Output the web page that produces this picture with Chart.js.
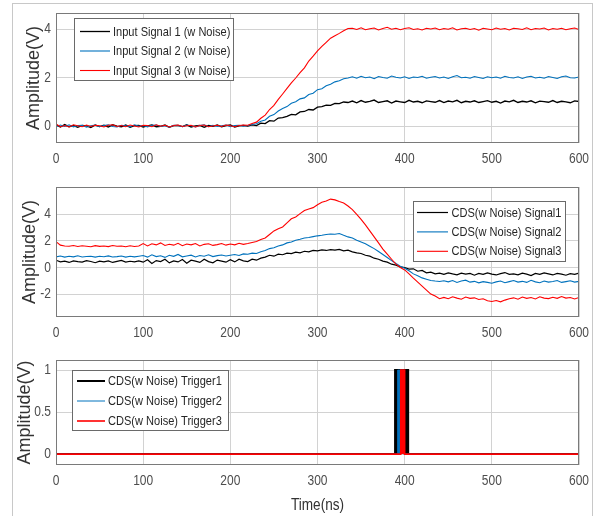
<!DOCTYPE html>
<html>
<head>
<meta charset="utf-8">
<script src="https://cdn.jsdelivr.net/npm/chart.js@4.4.1/dist/chart.umd.min.js"></script>
<style>
  body { margin: 0; background: #fff; }
  #frame { position: absolute; left: 12px; top: 3px; width: 579px; height: 520px;
           border: 1px solid #c8c8c8; border-bottom: none; }
  canvas { position: absolute; left: 0; }
</style>
</head>
<body>
<div id="frame"></div>
<canvas id="c1" width="595" height="170" style="top:0px"></canvas>
<canvas id="c2" width="595" height="170" style="top:170px"></canvas>
<canvas id="c3" width="595" height="176" style="top:340px"></canvas>
<script>
// temps (ns), pas de 5 ns
const timeNs = [0,5,10,15,20,25,30,35,40,45,50,55,60,65,70,75,80,85,90,95,
  100,105,110,115,120,125,130,135,140,145,150,155,160,165,170,175,180,185,190,195,
  200,205,210,215,220,225,230,235,240,245,250,255,260,265,270,275,280,285,290,295,
  300,305,310,315,320,325,330,335,340,345,350,355,360,365,370,375,380,385,390,395,
  400,405,410,415,420,425,430,435,440,445,450,455,460,465,470,475,480,485,490,495,
  500,505,510,515,520,525,530,535,540,545,550,555,560,565,570,575,580,585,590,595,600];

// signaux d'entree (avec bruit)
const input1 = [0.05,-0.04,0.06,-0.03,0.02,-0.05,0.03,0.01,-0.06,0.04,
  -0.02,0.03,-0.04,0.05,0.00,-0.03,0.04,-0.05,0.02,0.03,
  -0.04,0.01,0.05,-0.03,-0.01,0.04,-0.05,0.02,0.03,-0.02,
  0.05,-0.04,0.01,0.03,-0.05,0.02,-0.01,0.04,-0.03,0.02,
  0.05,-0.04,0.01,0.03,
  0.00,0.05,0.02,0.12,0.10,0.22,0.20,0.33,0.35,0.40,0.48,0.46,0.58,0.60,0.68,0.66,0.78,0.80,0.86,0.85,0.93,0.92,0.99,0.97,
  1.03,0.96,1.05,0.98,1.02,1.07,0.97,1.01,1.04,0.95,
  1.03,1.00,0.97,1.06,0.99,1.02,0.96,1.04,1.01,0.98,
  1.05,0.97,1.03,1.00,1.06,0.96,1.02,0.99,1.04,0.97,
  1.01,1.05,0.98,1.02,0.95,1.03,1.00,1.06,0.97,1.02,
  0.99,1.04,0.96,1.03,1.01,0.98,1.05,0.97,1.02,1.00,
  0.96,1.04,1.01];
const input2 = [-0.03,0.04,-0.02,0.05,-0.04,0.02,0.03,-0.05,0.01,0.04,
  -0.03,0.02,0.05,-0.02,-0.04,0.03,0.01,-0.03,0.05,-0.01,
  0.02,-0.04,0.03,0.04,-0.02,0.01,-0.05,0.03,0.02,-0.03,
  0.04,0.01,-0.04,0.02,0.05,-0.03,0.03,-0.02,0.01,0.04,
  -0.03,0.02,0.03,-0.01,
  0.02,0.06,0.09,0.20,0.25,0.40,0.47,0.62,0.72,0.80,0.94,1.00,1.12,1.16,1.30,1.35,1.50,1.54,1.66,1.72,1.82,1.87,1.95,1.98,
  2.03,1.97,2.05,1.99,2.02,1.95,2.04,2.00,1.97,2.06,
  2.01,1.98,2.03,1.96,2.02,2.00,2.05,1.97,2.01,2.04,
  1.98,2.02,1.96,2.03,2.08,1.99,2.01,1.97,2.04,2.00,
  1.96,2.03,1.99,2.02,1.97,2.05,2.00,1.98,2.03,1.96,
  2.02,2.05,1.98,2.01,1.97,2.04,2.00,1.96,2.03,2.06,
  1.99,1.98,2.02];
const input3 = [0.08,-0.03,0.02,-0.04,0.05,0.01,-0.03,0.04,-0.02,0.03,
  0.01,-0.04,0.03,0.05,-0.02,0.02,-0.03,0.04,0.00,-0.04,
  0.03,0.02,-0.03,0.05,-0.01,0.03,-0.04,0.02,0.04,-0.02,
  0.01,0.03,-0.04,0.02,0.04,-0.03,0.00,0.03,-0.02,0.04,
  0.01,-0.03,0.02,0.04,
  0.03,0.10,0.16,0.32,0.45,0.68,0.85,1.10,1.32,1.55,1.78,1.98,2.20,2.40,2.68,2.88,3.10,3.28,3.45,3.62,3.72,3.82,3.93,4.02,
  4.03,3.98,4.05,3.97,4.01,4.04,3.96,4.02,4.07,3.99,
  4.03,3.97,4.02,4.05,3.98,4.01,3.96,4.03,4.00,4.04,
  3.97,4.02,3.99,4.05,3.96,4.01,4.03,3.98,4.02,3.95,
  4.03,4.00,3.97,4.04,3.99,4.02,3.96,4.03,4.01,3.98,
  4.05,3.97,4.02,4.00,4.04,3.96,4.02,3.99,4.03,3.97,
  4.01,4.04,3.98];

// sorties CDS (avec bruit)
const cds1 = [0.55,0.42,0.48,0.38,0.50,0.44,0.40,0.52,0.45,0.36,0.48,0.42,0.50,0.38,0.46,0.53,0.40,0.47,0.43,0.49,
  0.40,0.58,0.30,0.52,0.45,0.62,0.35,0.50,0.42,0.60,0.32,0.55,0.48,0.38,0.62,0.44,0.35,0.56,0.48,0.40,
  0.58,0.42,0.62,0.50,
  0.45,0.62,0.55,0.70,0.78,0.92,0.85,1.00,0.96,1.08,1.05,1.15,1.10,1.22,1.18,1.28,1.25,1.32,1.28,1.35,1.30,1.36,1.25,1.30,
  1.18,1.10,1.05,0.92,0.85,0.70,0.62,0.48,0.40,0.25,0.18,0.05,0.00,-0.12,-0.10,-0.28,-0.22,-0.40,-0.35,-0.48,-0.42,
  -0.52,-0.40,-0.48,-0.55,-0.42,-0.50,-0.45,-0.58,-0.44,-0.52,-0.40,-0.50,-0.56,-0.46,-0.38,-0.52,
  -0.48,-0.55,-0.42,-0.50,-0.60,-0.45,-0.52,-0.40,-0.48,-0.56,-0.44,-0.50,-0.58,-0.46,-0.52,-0.42];
const cds2 = [0.80,0.86,0.78,0.84,0.80,0.88,0.79,0.83,0.85,0.78,0.84,0.81,0.87,0.79,0.82,0.86,0.78,0.84,0.80,0.85,
  0.90,0.78,0.95,0.82,0.88,0.76,0.92,0.84,0.98,0.80,0.87,0.93,0.79,0.90,0.85,0.96,0.82,0.89,0.94,0.86,
  0.92,0.98,0.90,1.02,
  1.00,1.08,1.05,1.18,1.28,1.42,1.48,1.62,1.70,1.85,1.92,2.05,2.12,2.22,2.25,2.32,2.38,2.42,2.48,2.52,2.50,2.55,2.42,2.30,
  2.22,2.05,1.92,1.78,1.60,1.42,1.20,0.98,0.75,0.52,0.30,0.10,-0.05,-0.25,-0.48,-0.62,-0.78,-0.88,-0.98,-1.02,-1.05,
  -1.00,-1.08,-0.98,-1.12,-1.02,-0.95,-1.10,-1.04,-1.15,-1.06,-1.12,-1.18,-1.08,-1.02,-1.14,-1.06,
  -0.98,-1.10,-1.04,-1.12,-0.96,-1.08,-1.14,-1.02,-1.10,-1.05,-0.98,-1.12,-1.06,-1.00,-1.10,-1.04];
const cds3 = [1.95,1.68,1.62,1.60,1.65,1.58,1.63,1.60,1.56,1.64,1.59,1.62,1.57,1.65,1.60,1.62,1.56,1.63,1.58,1.61,
  1.80,1.62,1.78,1.70,1.85,1.66,1.75,1.68,1.82,1.64,1.76,1.70,1.80,1.62,1.74,1.78,1.66,1.72,1.80,1.68,
  1.76,1.70,1.82,1.74,
  1.80,1.88,1.95,2.10,2.22,2.48,2.75,2.92,3.05,3.35,3.66,3.80,4.05,4.28,4.40,4.50,4.72,4.90,5.00,5.14,5.08,4.96,4.85,4.62,
  4.35,4.00,3.62,3.20,2.75,2.30,1.85,1.38,1.00,0.62,0.25,0.00,-0.18,-0.48,-0.80,-1.10,-1.40,-1.70,-2.00,-2.15,-2.35,
  -2.25,-2.35,-2.20,-2.30,-2.38,-2.22,-2.32,-2.28,-2.40,-2.35,-2.50,-2.55,-2.48,-2.58,-2.45,-2.35,
  -2.28,-2.38,-2.22,-2.32,-2.26,-2.36,-2.20,-2.30,-2.34,-2.24,-2.32,-2.18,-2.30,-2.26,-2.36,-2.25];

// triggers (front montant / descendant)
const trigTime1 = [0, 389, 389, 404, 404, 600];
const trigLevel1 = [0, 0, 1, 1, 0, 0];
const trigTime2 = [0, 392, 392, 399, 399, 600];
const trigLevel2 = [0, 0, 1, 1, 0, 0];
const trigTime3 = [0, 395.5, 395.5, 400, 400, 600];
const trigLevel3 = [0, 0, 1, 1, 0, 0];

const xTicks = [0, 100, 200, 300, 400, 500, 600];
const yTicks1 = [0, 2, 4];
const yTicks2 = [-2, 0, 2, 4];
const yTicks3 = [0, 0.5, 1];

const labels1 = ["Input Signal 1 (w Noise)", "Input Signal 2 (w Noise)", "Input Signal 3 (w Noise)"];
const labels2 = ["CDS(w Noise) Signal1", "CDS(w Noise) Signal2", "CDS(w Noise) Signal3"];
const labels3 = ["CDS(w Noise) Trigger1", "CDS(w Noise) Trigger2", "CDS(w Noise) Trigger3"];

const NOIR = "#000000", BLEU = "#0072BD", ROUGE = "#FF0000";
const POLICE = '"Liberation Sans", Arial, sans-serif';

function pts(xs, ys) {
  return xs.map((x, i) => ({ x: x, y: ys[i] }));
}

// texte un peu serre (police etroite facon matlab)
function texteSerre(ctx, txt, x, y, align, sx) {
  ctx.save();
  ctx.translate(x, y);
  ctx.scale(sx, 1);
  ctx.textAlign = align;
  ctx.fillText(txt, 0, 0);
  ctx.restore();
}

// cadre, graduations, legende
const cadreLegende = {
  id: "cadreLegende",
  afterDraw(chart, args, opts) {
    const ctx = chart.ctx, a = chart.chartArea;
    const sx = chart.scales.x, sy = chart.scales.y;
    ctx.save();
    ctx.strokeStyle = "#7a7a7a";
    ctx.lineWidth = 1;
    ctx.strokeRect(Math.round(a.left) + 0.5, Math.round(a.top) + 0.5,
      Math.round(a.right - a.left) - 1, Math.round(a.bottom - a.top) - 1);

    // etiquettes des axes
    ctx.fillStyle = "#4d4d4d";
    ctx.font = "15px " + POLICE;
    ctx.textBaseline = "top";
    xTicks.forEach(v => texteSerre(ctx, String(v), sx.getPixelForValue(v), a.bottom + 8, "center", 0.8));
    ctx.textBaseline = "middle";
    opts.yTicks.forEach(v => texteSerre(ctx, String(v), a.left - 5, sy.getPixelForValue(v), "right", 0.8));
    if (opts.xTitle) {
      ctx.fillStyle = "#333";
      ctx.font = "17px " + POLICE;
      texteSerre(ctx, opts.xTitle, (a.left + a.right) / 2, chart.height - 11, "center", 0.8);
    }

    const L = opts.box;
    if (L) {
      ctx.fillStyle = "#fff";
      ctx.fillRect(L.x, L.y, L.w, L.h);
      ctx.strokeStyle = "#6a6a6a";
      ctx.lineWidth = 1;
      ctx.strokeRect(L.x + 0.5, L.y + 0.5, L.w, L.h);
      ctx.font = "13px " + POLICE;
      ctx.textBaseline = "middle";
      chart.data.datasets.forEach((ds, i) => {
        const y = L.y + L.rowTop + i * L.rowGap;
        ctx.strokeStyle = ds.borderColor;
        ctx.lineWidth = ds.borderWidth;
        ctx.beginPath();
        ctx.moveTo(L.x + L.l0, y);
        ctx.lineTo(L.x + L.l1, y);
        ctx.stroke();
        ctx.fillStyle = "#262626";
        texteSerre(ctx, ds.label, L.x + L.tx, y + 0.5, "left", 0.85);
      });
    }
    ctx.restore();
  }
};

function options(yMin, yMax, yTicks, padTop, xHeight, titlePad, box, xTitle) {
  return {
    responsive: false,
    animation: false,
    layout: { padding: { top: padTop, right: 16, left: 0, bottom: 0 } },
    plugins: {
      legend: { display: false }, tooltip: { enabled: false },
      cadreLegende: { box: box, yTicks: yTicks, xTitle: xTitle }
    },
    elements: { point: { radius: 0 }, line: { tension: 0 } },
    scales: {
      x: {
        type: "linear", min: 0, max: 600,
        afterBuildTicks: s => { s.ticks = xTicks.map(v => ({ value: v })); },
        afterFit: s => { s.height = xHeight; },
        grid: { color: "#d2d2d2", drawTicks: false },
        border: { display: false },
        ticks: { display: false }
      },
      y: {
        type: "linear", min: yMin, max: yMax,
        afterBuildTicks: s => { s.ticks = yTicks.map(v => ({ value: v })); },
        afterFit: s => { s.width = 56; },
        grid: { color: "#d2d2d2", drawTicks: false },
        border: { display: false },
        ticks: { display: false },
        title: { display: true, text: "Amplitude(V)", color: "#333", padding: { top: titlePad, bottom: 0 },
                 font: { family: POLICE, size: 18 } }
      }
    }
  };
}

new Chart(document.getElementById("c1"), {
  type: "line",
  data: {
    datasets: [
      { label: labels1[0], data: pts(timeNs, input1), borderColor: NOIR, borderWidth: 1.3, order: 3 },
      { label: labels1[1], data: pts(timeNs, input2), borderColor: BLEU, borderWidth: 1.1, order: 2 },
      { label: labels1[2], data: pts(timeNs, input3), borderColor: ROUGE, borderWidth: 1.1, order: 1 }
    ]
  },
  options: options(-0.7, 4.66, yTicks1, 13, 27, 23,
    { x: 74, y: 18, w: 159, h: 62, rowTop: 13.5, rowGap: 19.5, l0: 6, l1: 36, tx: 39 }),
  plugins: [cadreLegende]
});

new Chart(document.getElementById("c2"), {
  type: "line",
  data: {
    datasets: [
      { label: labels2[0], data: pts(timeNs, cds1), borderColor: NOIR, borderWidth: 1.2, order: 3 },
      { label: labels2[1], data: pts(timeNs, cds2), borderColor: BLEU, borderWidth: 1.1, order: 2 },
      { label: labels2[2], data: pts(timeNs, cds3), borderColor: ROUGE, borderWidth: 1.1, order: 1 }
    ]
  },
  options: options(-3.72, 6.05, yTicks2, 17, 23, 19,
    { x: 413, y: 31, w: 152, h: 60, rowTop: 11.5, rowGap: 19.4, l0: 4, l1: 35, tx: 38.5 }),
  plugins: [cadreLegende]
});

new Chart(document.getElementById("c3"), {
  type: "line",
  data: {
    datasets: [
      { label: labels3[0], data: pts(trigTime1, trigLevel1), borderColor: NOIR, backgroundColor: NOIR, borderWidth: 2, fill: "origin", order: 3 },
      { label: labels3[1], data: pts(trigTime2, trigLevel2), borderColor: BLEU, backgroundColor: BLEU, borderWidth: 1, fill: "origin", order: 2 },
      { label: labels3[2], data: pts(trigTime3, trigLevel3), borderColor: ROUGE, backgroundColor: ROUGE, borderWidth: 1.6, fill: "origin", order: 1 }
    ]
  },
  options: options(-0.13, 1.12, yTicks3, 20, 51, 14,
    { x: 72, y: 30, w: 156, h: 60, rowTop: 11, rowGap: 20, l0: 5, l1: 33, tx: 36 }, "Time(ns)"),
  plugins: [cadreLegende]
});
</script>
</body>
</html>
